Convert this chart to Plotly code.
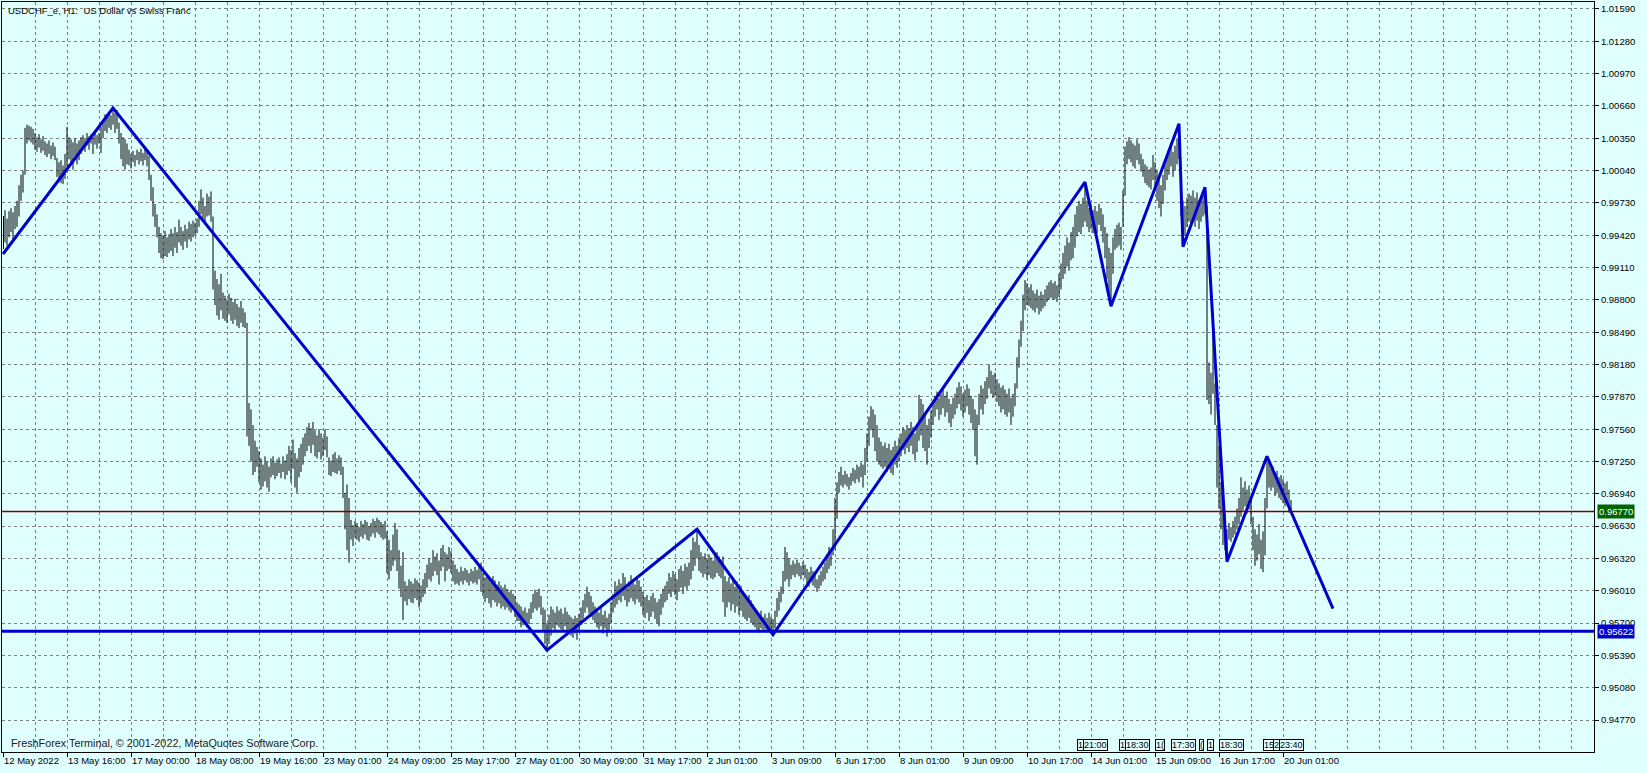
import plotly.graph_objects as go

# USDCHF_e H1, hourly bars, in pips (0.0001)
# one list per stretch of 128 bars, bar 0 = 12 May 08:00
high_from_12may = [
    9960, 9966, 9958, 9965, 9968, 9964, 9970, 9975, 9990, 10000, 10004, 10045, 10048, 10047, 10046, 10044,
    10040, 10036, 10039, 10034, 10037, 10032, 10030, 10033, 10028, 10031, 10027, 10016, 10012, 10014, 10009, 10020,
    10046, 10036, 10034, 10031, 10035, 10030, 10033, 10036, 10038, 10035, 10040, 10037, 10039, 10036, 10041, 10038,
    10040, 10046, 10050, 10058, 10055, 10060, 10057, 10064, 10059, 10062, 10050, 10040, 10036, 10034, 10030, 10024,
    10020, 10023, 10019, 10024, 10022, 10025, 10021, 10026, 10022, 10018, 10000, 9988, 9972, 9962, 9950, 9944,
    9942, 9946, 9940, 9943, 9948, 9944, 9950, 9945, 9957, 9950, 9946, 9952, 9948, 9955, 9953, 9956,
    9954, 9958, 9975, 9986, 9978, 9970, 9982, 9979, 9984, 9960, 9908, 9900, 9895, 9905, 9887, 9884,
    9880, 9886, 9882, 9878, 9881, 9876, 9873, 9879, 9872, 9868, 9858, 9781, 9775, 9760, 9745, 9739,
]
low_from_12may = [
    9929, 9935, 9932, 9940, 9945, 9938, 9948, 9950, 9960, 9975, 9983, 10000, 10030, 10033, 10031, 10029,
    10024, 10022, 10026, 10021, 10023, 10019, 10017, 10020, 10015, 10018, 10014, 9998, 9994, 9992, 9991, 9996,
    10008, 10015, 10012, 10005, 10018, 10010, 10014, 10020, 10025, 10022, 10028, 10024, 10030, 10020, 10029, 10025,
    10030, 10021, 10035, 10042, 10040, 10045, 10043, 10048, 10040, 10044, 10030, 10015, 10008, 10005, 10010, 10009,
    10006, 10012, 10008, 10014, 10010, 10013, 10009, 10014, 10008, 9995, 9975, 9960, 9950, 9940, 9925, 9920,
    9919, 9922, 9921, 9925, 9927, 9922, 9930, 9925, 9935, 9932, 9928, 9936, 9930, 9938, 9936, 9940,
    9942, 9944, 9950, 9962, 9958, 9954, 9960, 9961, 9955, 9890, 9875, 9865, 9861, 9870, 9862, 9860,
    9858, 9866, 9860, 9857, 9861, 9855, 9853, 9858, 9854, 9853, 9749, 9740, 9725, 9712, 9715, 9720,
]

high_from_19may = [
    9735, 9728, 9722, 9730, 9725, 9720, 9728, 9730, 9724, 9727, 9729, 9723, 9730, 9726, 9732, 9740,
    9736, 9746, 9733, 9728, 9738, 9742, 9748, 9752, 9758, 9762, 9757, 9763, 9755, 9750, 9756, 9752,
    9748, 9756, 9749, 9729, 9726, 9732, 9734, 9728, 9731, 9729, 9720, 9695, 9703, 9690, 9669, 9664,
    9668, 9666, 9662, 9668, 9665, 9669, 9667, 9663, 9666, 9670, 9668, 9671, 9669, 9667, 9665, 9668,
    9658, 9650, 9640, 9655, 9666, 9660, 9640, 9625, 9638, 9610, 9606, 9612, 9610, 9608, 9613, 9611,
    9609, 9606, 9612, 9618, 9626, 9632, 9628, 9640, 9634, 9637, 9630, 9642, 9645, 9638, 9636, 9643,
    9639, 9630, 9626, 9622, 9619, 9624, 9620, 9623, 9621, 9618, 9622, 9620, 9624, 9621, 9625, 9628,
    9618, 9614, 9616, 9612, 9609, 9615, 9611, 9607, 9610, 9606, 9604, 9607, 9603, 9600, 9602, 9598,
]
low_from_19may = [
    9705, 9698, 9701, 9706, 9700, 9696, 9710, 9712, 9708, 9711, 9714, 9709, 9715, 9708, 9712, 9716,
    9705, 9718, 9700, 9695, 9710, 9715, 9722, 9730, 9735, 9740, 9733, 9741, 9730, 9728, 9734, 9727,
    9730, 9736, 9729, 9712, 9711, 9715, 9714, 9713, 9716, 9712, 9690, 9660, 9640, 9628, 9650, 9644,
    9652, 9650, 9648, 9653, 9651, 9655, 9650, 9649, 9653, 9656, 9652, 9657, 9655, 9652, 9650, 9651,
    9618, 9612, 9620, 9625, 9630, 9620, 9603, 9595, 9573, 9591, 9587, 9593, 9590, 9589, 9594, 9592,
    9585, 9590, 9595, 9598, 9604, 9612, 9610, 9615, 9620, 9616, 9607, 9620, 9624, 9610, 9620, 9622,
    9618, 9610, 9607, 9608, 9606, 9610, 9607, 9611, 9609, 9606, 9610, 9608, 9609, 9607, 9612, 9600,
    9596, 9590, 9594, 9589, 9585, 9592, 9590, 9586, 9589, 9584, 9586, 9583, 9585, 9582, 9580, 9583,
]

high_from_27may = [
    9596, 9590, 9588, 9586, 9582, 9585, 9580, 9584, 9590, 9598, 9602, 9600, 9603, 9596, 9585, 9583,
    9570, 9578, 9586, 9583, 9580, 9586, 9582, 9584, 9579, 9585, 9581, 9578, 9576, 9574, 9577, 9575,
    9579, 9585, 9592, 9598, 9605, 9600, 9596, 9590, 9586, 9583, 9580, 9586, 9578, 9582, 9575, 9579,
    9590, 9598, 9610, 9606, 9612, 9608, 9618, 9614, 9604, 9610, 9616, 9612, 9607, 9615, 9611, 9605,
    9600, 9595, 9597, 9592, 9596, 9599, 9594, 9590, 9593, 9598, 9603, 9606, 9610, 9618, 9614, 9620,
    9617, 9612, 9622, 9625, 9620, 9627, 9624, 9628, 9640, 9652, 9648, 9660, 9645, 9638, 9634, 9637,
    9632, 9636, 9633, 9630, 9635, 9638, 9634, 9631, 9634, 9615, 9610, 9614, 9608, 9612, 9605, 9610,
    9602, 9606, 9600, 9598, 9594, 9597, 9592, 9588, 9583, 9580, 9578, 9582, 9576, 9579, 9575, 9580,
]
low_from_27may = [
    9576, 9572, 9572, 9566, 9568, 9570, 9566, 9569, 9574, 9580, 9584, 9582, 9585, 9578, 9562, 9550,
    9544, 9550, 9558, 9565, 9562, 9568, 9566, 9564, 9563, 9567, 9562, 9561, 9558, 9556, 9560, 9554,
    9561, 9568, 9574, 9580, 9585, 9579, 9576, 9573, 9570, 9566, 9564, 9567, 9560, 9565, 9557, 9562,
    9570, 9580, 9585, 9588, 9592, 9590, 9596, 9592, 9586, 9590, 9594, 9591, 9588, 9593, 9590, 9586,
    9578, 9575, 9580, 9572, 9576, 9581, 9574, 9570, 9567, 9578, 9585, 9590, 9592, 9598, 9595, 9600,
    9597, 9592, 9600, 9604, 9598, 9605, 9602, 9606, 9612, 9620, 9625, 9632, 9620, 9618, 9614, 9617,
    9612, 9616, 9613, 9612, 9614, 9618, 9615, 9613, 9590, 9576, 9585, 9590, 9582, 9588, 9580, 9586,
    9578, 9582, 9576, 9574, 9572, 9575, 9570, 9568, 9566, 9563, 9561, 9565, 9562, 9564, 9561, 9563,
]

high_from_03jun = [
    9576, 9574, 9582, 9594, 9600, 9605, 9620, 9643, 9638, 9632, 9626, 9630, 9627, 9631, 9628, 9625,
    9629, 9626, 9622, 9619, 9624, 9620, 9617, 9612, 9616, 9620, 9624, 9628, 9636, 9643, 9640, 9660,
    9690, 9705, 9715, 9720, 9712, 9716, 9713, 9710, 9714, 9719, 9717, 9722, 9720, 9724, 9722, 9738,
    9752, 9768, 9778, 9775, 9770, 9760, 9748, 9744, 9740, 9743, 9738, 9742, 9736, 9739, 9745, 9740,
    9748, 9752, 9758, 9755, 9760, 9757, 9763, 9758, 9752, 9760, 9789, 9785, 9780, 9770, 9760, 9766,
    9774, 9782, 9788, 9792, 9786, 9790, 9794, 9788, 9792, 9785, 9780, 9786, 9790, 9796, 9801, 9797,
    9790, 9794, 9799, 9795, 9788, 9785, 9775, 9770, 9790, 9798, 9795, 9802, 9806, 9818, 9812, 9808,
    9810, 9804, 9800, 9796, 9798, 9794, 9790, 9795, 9786, 9790, 9800, 9825, 9842, 9860, 9885, 9899,
]
low_from_03jun = [
    9562, 9559, 9565, 9576, 9582, 9590, 9598, 9610, 9612, 9605, 9612, 9616, 9614, 9617, 9615, 9612,
    9616, 9613, 9608, 9605, 9609, 9606, 9604, 9600, 9603, 9606, 9610, 9612, 9618, 9622, 9625, 9635,
    9640, 9670, 9695, 9702, 9700, 9703, 9701, 9698, 9702, 9706, 9704, 9708, 9705, 9710, 9700, 9712,
    9725, 9740, 9755, 9748, 9735, 9725, 9722, 9720, 9718, 9720, 9715, 9718, 9714, 9712, 9722, 9719,
    9725, 9730, 9736, 9732, 9738, 9734, 9740, 9732, 9726, 9734, 9745, 9750, 9738, 9735, 9722, 9738,
    9748, 9760, 9768, 9775, 9765, 9770, 9776, 9768, 9772, 9762, 9758, 9766, 9770, 9776, 9780, 9774,
    9768, 9772, 9778, 9770, 9762, 9755, 9730, 9722, 9760, 9775, 9770, 9780, 9785, 9795, 9790, 9786,
    9788, 9782, 9778, 9772, 9775, 9770, 9768, 9772, 9760, 9768, 9778, 9795, 9815, 9835, 9850, 9870,
]

high_from_10jun = [
    9896, 9892, 9895, 9889, 9886, 9890, 9884, 9888, 9885, 9890, 9894, 9897, 9899, 9896, 9898, 9894,
    9905, 9915, 9925, 9932, 9940, 9935, 9945, 9950, 9962, 9970, 9975, 9972, 9978, 9993, 9975, 9968,
    9972, 9966, 9970, 9965, 9972, 9968, 9962, 9950, 9944, 9930, 9925, 9940, 9948, 9952, 9954, 9950,
    9985, 10027, 10032, 10036, 10033, 10030, 10028, 10034, 10030, 10020, 10015, 10010, 10008, 10005, 10007, 10019,
    10012, 10005, 9998, 9990, 10000, 10010, 10018, 10025, 10031, 10022, 10028, 10035, 10049, 10003, 9975, 9970,
    9978, 9982, 9980, 9985, 9978, 9983, 9976, 9980, 9984, 9988, 9970, 9820, 9810, 9849, 9800, 9760,
    9740, 9705, 9690, 9675, 9660, 9666, 9662, 9668, 9672, 9680, 9690, 9710, 9700, 9706, 9698, 9702,
    9690, 9672, 9660, 9655, 9665, 9650, 9658, 9690, 9730, 9725, 9718, 9720, 9714, 9716, 9710, 9712,
    9708, 9704, 9706, 9698, 9688,
]
low_from_10jun = [
    9875, 9874, 9872, 9870, 9868, 9872, 9866, 9869, 9872, 9874, 9878, 9880, 9882, 9880, 9881, 9878,
    9883, 9890, 9900, 9905, 9912, 9908, 9918, 9920, 9930, 9941, 9945, 9943, 9950, 9955, 9950, 9945,
    9948, 9944, 9950, 9944, 9952, 9946, 9935, 9920, 9900, 9880, 9874, 9905, 9928, 9930, 9932, 9928,
    9950, 9980, 10010, 10015, 10012, 10008, 10006, 10014, 10010, 10003, 9998, 9992, 9990, 9988, 9986, 9995,
    9985, 9975, 9968, 9960, 9972, 9985, 9995, 10000, 10008, 9998, 10004, 10010, 10015, 9960, 9931, 9942,
    9950, 9955, 9952, 9958, 9950, 9956, 9948, 9955, 9960, 9962, 9784, 9780, 9770, 9790, 9760, 9700,
    9680, 9660, 9645, 9640, 9629, 9650, 9648, 9652, 9655, 9660, 9665, 9672, 9678, 9682, 9675, 9679,
    9665, 9640, 9625, 9630, 9636, 9622, 9619, 9635, 9680, 9700, 9697, 9700, 9692, 9695, 9690, 9688,
    9685, 9682, 9684, 9676, 9675,
]

# zigzag pivots (bar number, price)
zz_bar = [0, 55, 272, 347, 385, 541, 554, 588, 590, 601, 612, 632, 665]
zz_price = [0.9924, 1.0064, 0.9544, 0.9660, 0.9559, 0.9993, 0.9874, 1.0049, 0.9931, 0.9988, 0.9629, 0.9730, 0.9584]

current_price = 0.96770
level_price = 0.95622

y_ticks = [0.94770, 0.95080, 0.95390, 0.95700, 0.96010, 0.96320, 0.96630, 0.96940, 0.97250,
           0.97560, 0.97870, 0.98180, 0.98490, 0.98800, 0.99110, 0.99420, 0.99730, 1.00040,
           1.00350, 1.00660, 1.00970, 1.01280, 1.01590]

x_labels = ["12 May 2022", "13 May 16:00", "17 May 00:00", "18 May 08:00", "19 May 16:00",
            "23 May 01:00", "24 May 09:00", "25 May 17:00", "27 May 01:00", "30 May 09:00",
            "31 May 17:00", "2 Jun 01:00", "3 Jun 09:00", "6 Jun 17:00", "8 Jun 01:00",
            "9 Jun 09:00", "10 Jun 17:00", "14 Jun 01:00", "15 Jun 09:00", "16 Jun 17:00",
            "20 Jun 01:00"]

# calendar event flags along the time axis
event_text = ["1", "21:00", "1", "18:30", "1(", "17:30", "(", "1", "18:30", "15", "2", "23:40"]
event_bar = [537, 540, 558, 561, 576, 584, 598, 602, 608, 630, 635, 638]

highs = high_from_12may + high_from_19may + high_from_27may + high_from_03jun + high_from_10jun
lows = low_from_12may + low_from_19may + low_from_27may + low_from_03jun + low_from_10jun

bx, by = [], []
for i, (h, l) in enumerate(zip(highs, lows)):
    bx += [i, i, None]
    by += [l / 10000, h / 10000, None]

bg = "#E0FFFF"
grid = "#808080"
font = "Liberation Sans"

fig = go.Figure()
fig.add_trace(go.Scatter(x=bx, y=by, mode="lines", line=dict(color="black", width=1),
                         hoverinfo="skip"))
fig.add_trace(go.Scatter(x=zz_bar, y=zz_price, mode="lines",
                         line=dict(color="#0000CD", width=3), hoverinfo="skip"))

fig.add_hline(y=current_price, line_color="#800000", line_width=1.5)
fig.add_hline(y=level_price, line_color="#0000CD", line_width=3)

step = 32
major = [k * step for k in range(len(x_labels))]
minor = [k * 16 for k in range(50) if k * 16 not in major]

fig.update_layout(
    width=1647, height=773,
    margin=dict(l=2, r=53, t=2, b=21),
    paper_bgcolor=bg, plot_bgcolor=bg,
    showlegend=False,
    font=dict(family=font, size=9.5, color="black"),
    xaxis=dict(range=[-0.5, 795.5], tickmode="array", tickvals=major, ticktext=x_labels,
               tickangle=0, automargin=False,
               ticks="outside", ticklen=4, tickcolor="black", ticklabelposition="outside right",
               showgrid=True, gridcolor=grid, griddash="3px,3px", gridwidth=1,
               showline=True, linecolor="black", linewidth=1, mirror=True, zeroline=False,
               minor=dict(tickmode="array", tickvals=minor, showgrid=True, gridcolor=grid,
                          griddash="3px,3px", gridwidth=1, ticks="")),
    yaxis=dict(side="right", range=[0.94464, 1.01657], tickmode="array", tickvals=y_ticks,
               tickformat=".5f", ticks="outside", ticklen=4, tickcolor="black", automargin=False,
               showgrid=True, gridcolor=grid, griddash="3px,3px", gridwidth=1,
               showline=True, linecolor="black", linewidth=1, mirror=True, zeroline=False),
)

fig.add_annotation(text="USDCHF_e, H1:\u00a0 US Dollar vs Swiss Franc", xref="paper", yref="paper",
                   x=0, y=1, xanchor="left", yanchor="top", xshift=4, yshift=-1,
                   showarrow=False, font=dict(size=9.5, color="black"))
fig.add_annotation(text="FreshForex Terminal, © 2001-2022, MetaQuotes Software Corp.",
                   xref="paper", yref="paper", x=0, y=0, xanchor="left", yanchor="bottom",
                   xshift=7, yshift=1, showarrow=False, font=dict(size=10.8, color="#1a1a1a"))

for price, col in [(current_price, "#006400"), (level_price, "#0000CD")]:
    fig.add_annotation(text=f"{price:.5f}", xref="paper", yref="y", x=1, y=price,
                       xanchor="left", yanchor="middle", xshift=3, showarrow=False,
                       bgcolor=col, borderpad=1, font=dict(size=9.5, color="white"))

for txt, b in zip(event_text, event_bar):
    fig.add_annotation(text=txt, xref="x", yref="paper", x=b, y=0, xanchor="left",
                       yanchor="bottom", yshift=1, showarrow=False, bgcolor=bg,
                       bordercolor="black", borderwidth=1, borderpad=0,
                       font=dict(size=9, color="black"))

# sharp 1px bars like the terminal draws them
js = ("document.body.style.margin='0px';"
      "var t=document.querySelectorAll('.scatterlayer .trace');"
      "if(t.length){var p=t[0].querySelector('path.js-line');"
      "if(p){p.style.shapeRendering='crispEdges';}}")
fig.write_html("out.html", config={"displayModeBar": False}, post_script=js)
